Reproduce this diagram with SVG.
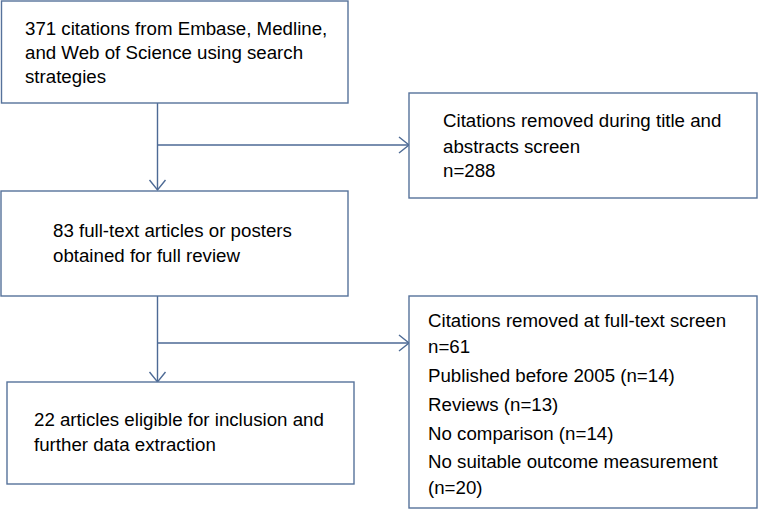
<svg xmlns="http://www.w3.org/2000/svg" width="758" height="509" viewBox="0 0 758 509">
<style>
.box{fill:#fff;stroke:#56729b;stroke-width:1.4}
.ln{fill:none;stroke:#4d6a95;stroke-width:1.4}
text{font-family:"Liberation Sans",Arial,sans-serif;font-size:18.7px;fill:#000}
</style>
<rect width="758" height="509" fill="#fff"/>
<g id="connectors">
<path class="ln" d="M157.5,103 V190 M157.5,145 H409"/>
<path class="ln" d="M149.5,180 L157.5,190 L165.5,180"/>
<path class="ln" d="M399,137 L409,145 L399,153"/>
<path class="ln" d="M157.5,296 V382 M157.5,343 H409"/>
<path class="ln" d="M149.5,372 L157.5,382 L165.5,372"/>
<path class="ln" d="M399,335 L409,343 L399,351"/>
</g>
<g id="n1">
<rect class="box" x="1.5" y="1" width="346.5" height="102"/>
<text x="25" y="35">371 citations from Embase, Medline,</text>
<text x="25" y="59">and Web of Science using search</text>
<text x="25" y="83">strategies</text>
</g>
<g id="n2">
<rect class="box" x="409" y="93" width="348" height="105"/>
<text x="443" y="127">Citations removed during title and</text>
<text x="443" y="153">abstracts screen</text>
<text x="443" y="177">n=288</text>
</g>
<g id="n3">
<rect class="box" x="1" y="191" width="347" height="105"/>
<text x="53" y="237">83 full-text articles or posters</text>
<text x="53" y="262">obtained for full review</text>
</g>
<g id="n4">
<rect class="box" x="7" y="382" width="347" height="102"/>
<text x="34" y="426">22 articles eligible for inclusion and</text>
<text x="34" y="451">further data extraction</text>
</g>
<g id="n5">
<rect class="box" x="409" y="296" width="348" height="212"/>
<text x="428" y="327">Citations removed at full-text screen</text>
<text x="428" y="353">n=61</text>
<text x="428" y="382">Published before 2005 (n=14)</text>
<text x="428" y="411">Reviews (n=13)</text>
<text x="428" y="440">No comparison (n=14)</text>
<text x="428" y="468">No suitable outcome measurement</text>
<text x="428" y="494">(n=20)</text>
</g>
</svg>
